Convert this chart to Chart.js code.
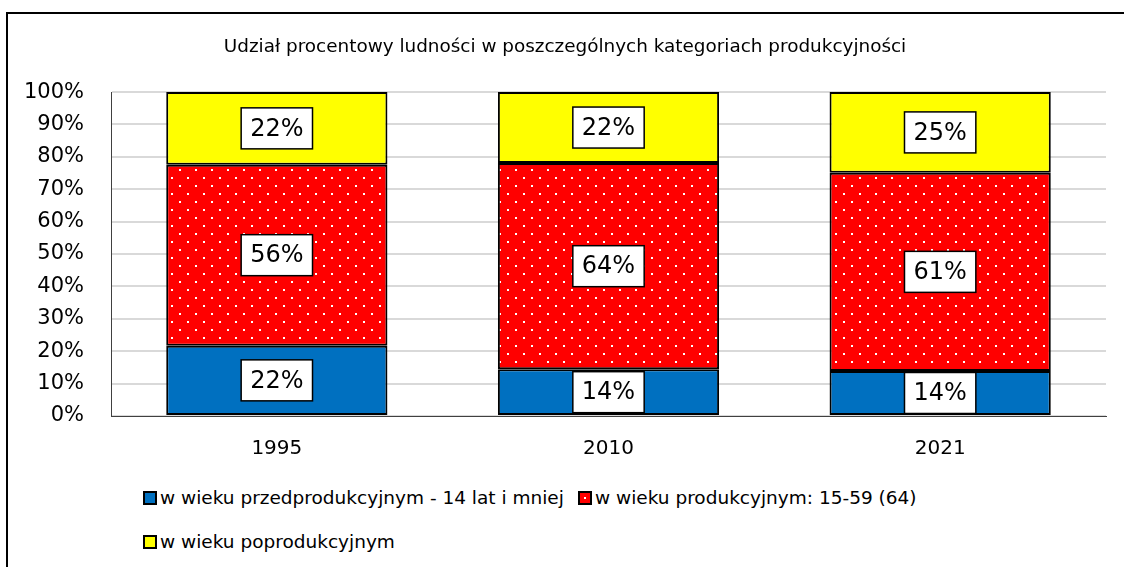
<!DOCTYPE html>
<html>
<head>
<meta charset="utf-8">
<script src="https://cdn.jsdelivr.net/npm/chart.js@4/dist/chart.umd.min.js"></script>
<style>
  body { margin: 0; background: #fff; font-family: "DejaVu Sans", Verdana, sans-serif; overflow: hidden; }
  #frame { position: absolute; left: 6px; top: 12px; width: 1140px; height: 580px; border: 2px solid #000; }
  #wrap { position: absolute; left: 0; top: 0; width: 1110px; height: 466px; }
  .leg { position: absolute; font-size: 18.5px; line-height: 22px; color: #000; white-space: nowrap; display: flex; align-items: center; }
  .leg .box { width: 10px; height: 10px; border: 2px solid #000; margin-right: 3px; position: relative; }
  .leg .dot { position: absolute; left: 4px; top: 4px; width: 2px; height: 2px; background: #fff; }
</style>
</head>
<body>
<div id="frame">
  <div id="wrap"><canvas id="chart"></canvas></div>
  <div class="leg" style="left:135px; top:473px;"><span class="box" style="background:#0070c0"></span>w wieku przedprodukcyjnym - 14 lat i mniej</div>
  <div class="leg" style="left:570px; top:473px;"><span class="box" style="background:#ff0000"><span class="dot"></span></span>w wieku produkcyjnym: 15-59 (64)</div>
  <div class="leg" style="left:135px; top:517px;"><span class="box" style="background:#ffff00"></span>w wieku poprodukcyjnym</div>
</div>
<script>
const years = ['1995', '2010', '2021'];
const seriesNames = ['w wieku przedprodukcyjnym - 14 lat i mniej', 'w wieku produkcyjnym: 15-59 (64)', 'w wieku poprodukcyjnym'];
const preProd = [21.7, 14.4, 13.9];
const prod = [55.9, 63.7, 61.2];
const postProd = [22.4, 21.9, 24.9];
const title = 'Udział procentowy ludności w poszczególnych kategoriach produkcyjności';

// red with white dots
function dotPattern() {
  const c = document.createElement('canvas');
  c.width = 16; c.height = 16;
  const g = c.getContext('2d');
  g.fillStyle = '#ff0000';
  g.fillRect(0, 0, 16, 16);
  g.fillStyle = '#ffffff';
  g.fillRect(3, 3, 2, 2);
  g.fillRect(11, 11, 2, 2);
  return g.createPattern(c, 'repeat');
}

const boxLabels = {
  id: 'boxLabels',
  afterDatasetsDraw(chart) {
    const ctx = chart.ctx;
    ctx.save();
    ctx.font = '24px "DejaVu Sans"';
    ctx.textAlign = 'center';
    ctx.textBaseline = 'middle';
    chart.data.datasets.forEach((ds, i) => {
      chart.getDatasetMeta(i).data.forEach((bar, j) => {
        const txt = Math.round(ds.data[j]) + '%';
        const cy = (bar.y + bar.base) / 2;
        const w = ctx.measureText(txt).width + 18;
        const h = 41;
        ctx.fillStyle = '#fff';
        ctx.fillRect(bar.x - w / 2, cy - h / 2, w, h);
        ctx.strokeStyle = '#000';
        ctx.lineWidth = 1.5;
        ctx.strokeRect(bar.x - w / 2, cy - h / 2, w, h);
        ctx.fillStyle = '#000';
        ctx.fillText(txt, bar.x, cy + 1);
      });
    });
    ctx.restore();
  }
};

const common = { borderColor: '#000', borderWidth: 2, borderSkipped: false, categoryPercentage: 1, barPercentage: 0.667 };

new Chart(document.getElementById('chart'), {
  type: 'bar',
  data: {
    labels: years,
    datasets: [
      Object.assign({ label: seriesNames[0], data: preProd, backgroundColor: '#0070c0' }, common),
      Object.assign({ label: seriesNames[1], data: prod, backgroundColor: dotPattern() }, common),
      Object.assign({ label: seriesNames[2], data: postProd, backgroundColor: '#ffff00' }, common)
    ]
  },
  options: {
    responsive: true,
    maintainAspectRatio: false,
    animation: false,
    layout: { padding: { top: 10, right: 12, left: 16, bottom: 6 } },
    scales: {
      x: {
        stacked: true,
        grid: { display: false },
        border: { color: '#404040', width: 1 },
        ticks: { color: '#000', font: { size: 20, family: 'DejaVu Sans' }, padding: 13 }
      },
      y: {
        stacked: true,
        min: 0, max: 100,
        afterFit(s) { s.width = 87; },
        grid: { color: '#d9d9d9', lineWidth: 2, drawTicks: false },
        border: { color: '#404040', width: 1 },
        ticks: { stepSize: 10, color: '#000', font: { size: 21, family: 'DejaVu Sans' }, padding: 27, callback: v => v + '%' }
      }
    },
    plugins: {
      legend: { display: false },
      tooltip: { enabled: false },
      title: { display: true, text: title, color: '#000', font: { size: 18.4, weight: 'normal', family: 'DejaVu Sans' }, padding: { top: 12, bottom: 34 } }
    }
  },
  plugins: [boxLabels]
});
</script>
</body>
</html>
